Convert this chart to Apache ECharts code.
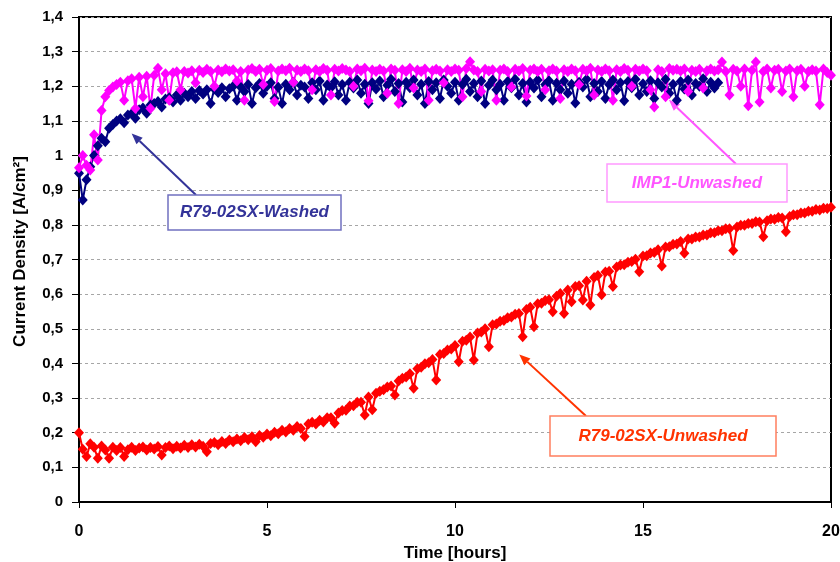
<!DOCTYPE html>
<html>
<head>
<meta charset="utf-8">
<script src="https://cdn.jsdelivr.net/npm/echarts@6/dist/echarts.min.js"></script>
<style>
  html, body { margin: 0; padding: 0; background: #fff; }
  #main { width: 840px; height: 562px; }
</style>
</head>
<body>
<div id="main"></div>
<script>
// sample times [hours]
const times = [
  0.0, 0.1, 0.2, 0.3, 0.4, 0.5, 0.6, 0.7, 0.8, 0.9,
  1.0, 1.1, 1.2, 1.3, 1.4, 1.5, 1.6, 1.7, 1.8, 1.9,
  2.0, 2.1, 2.2, 2.3, 2.4, 2.5, 2.6, 2.7, 2.8, 2.9,
  3.0, 3.1, 3.2, 3.3, 3.4, 3.5, 3.6, 3.7, 3.8, 3.9,
  4.0, 4.1, 4.2, 4.3, 4.4, 4.5, 4.6, 4.7, 4.8, 4.9,
  5.0, 5.1, 5.2, 5.3, 5.4, 5.5, 5.6, 5.7, 5.8, 5.9,
  6.0, 6.1, 6.2, 6.3, 6.4, 6.5, 6.6, 6.7, 6.8, 6.9,
  7.0, 7.1, 7.2, 7.3, 7.4, 7.5, 7.6, 7.7, 7.8, 7.9,
  8.0, 8.1, 8.2, 8.3, 8.4, 8.5, 8.6, 8.7, 8.8, 8.9,
  9.0, 9.1, 9.2, 9.3, 9.4, 9.5, 9.6, 9.7, 9.8, 9.9,
  10.0, 10.1, 10.2, 10.3, 10.4, 10.5, 10.6, 10.7, 10.8, 10.9,
  11.0, 11.1, 11.2, 11.3, 11.4, 11.5, 11.6, 11.7, 11.8, 11.9,
  12.0, 12.1, 12.2, 12.3, 12.4, 12.5, 12.6, 12.7, 12.8, 12.9,
  13.0, 13.1, 13.2, 13.3, 13.4, 13.5, 13.6, 13.7, 13.8, 13.9,
  14.0, 14.1, 14.2, 14.3, 14.4, 14.5, 14.6, 14.7, 14.8, 14.9,
  15.0, 15.1, 15.2, 15.3, 15.4, 15.5, 15.6, 15.7, 15.8, 15.9,
  16.0, 16.1, 16.2, 16.3, 16.4, 16.5, 16.6, 16.7, 16.8, 16.9,
  17.0, 17.1, 17.2, 17.3, 17.4, 17.5, 17.6, 17.7, 17.8, 17.9,
  18.0, 18.1, 18.2, 18.3, 18.4, 18.5, 18.6, 18.7, 18.8, 18.9,
  19.0, 19.1, 19.2, 19.3, 19.4, 19.5, 19.6, 19.7, 19.8, 19.9,
  20.0
]

// R79-02SX-Unwashed, current density [A/cm2]
const unwashedR79 = [
  0.200, 0.152, 0.131, 0.168, 0.158, 0.126, 0.162, 0.150, 0.126, 0.158,
  0.149, 0.157, 0.131, 0.151, 0.158, 0.149, 0.156, 0.159, 0.150, 0.157,
  0.153, 0.160, 0.136, 0.157, 0.162, 0.154, 0.161, 0.156, 0.164, 0.157,
  0.165, 0.159, 0.167, 0.161, 0.145, 0.169, 0.172, 0.165, 0.175, 0.169,
  0.179, 0.174, 0.182, 0.177, 0.186, 0.180, 0.188, 0.174, 0.192, 0.187,
  0.196, 0.191, 0.201, 0.197, 0.207, 0.202, 0.212, 0.207, 0.218, 0.212,
  0.189, 0.225, 0.230, 0.225, 0.236, 0.231, 0.243, 0.243, 0.227, 0.257,
  0.264, 0.265, 0.277, 0.278, 0.288, 0.288, 0.251, 0.303, 0.266, 0.314,
  0.320, 0.324, 0.332, 0.335, 0.309, 0.349, 0.357, 0.361, 0.370, 0.328,
  0.385, 0.389, 0.399, 0.402, 0.411, 0.352, 0.426, 0.429, 0.439, 0.442,
  0.452, 0.405, 0.464, 0.467, 0.476, 0.410, 0.488, 0.491, 0.500, 0.448,
  0.512, 0.514, 0.522, 0.524, 0.532, 0.534, 0.542, 0.544, 0.477, 0.556,
  0.562, 0.506, 0.572, 0.574, 0.582, 0.584, 0.549, 0.594, 0.602, 0.544,
  0.612, 0.578, 0.622, 0.624, 0.583, 0.637, 0.569, 0.648, 0.654, 0.598,
  0.664, 0.666, 0.622, 0.678, 0.684, 0.685, 0.692, 0.694, 0.701, 0.665,
  0.710, 0.711, 0.719, 0.720, 0.728, 0.681, 0.736, 0.737, 0.744, 0.745,
  0.752, 0.718, 0.759, 0.759, 0.765, 0.765, 0.771, 0.771, 0.777, 0.777,
  0.783, 0.783, 0.789, 0.789, 0.726, 0.794, 0.799, 0.799, 0.804, 0.804,
  0.809, 0.808, 0.766, 0.812, 0.817, 0.816, 0.821, 0.820, 0.780, 0.824,
  0.829, 0.829, 0.834, 0.834, 0.839, 0.839, 0.844, 0.843, 0.848, 0.847,
  0.851
]

// IMP1-Unwashed
const unwashedIMP1 = [
  0.965, 1.000, 0.972, 0.958, 1.060, 0.987, 1.130, 1.170, 1.188, 1.198,
  1.205, 1.212, 1.160, 1.216, 1.222, 1.136, 1.226, 1.170, 1.229, 1.136,
  1.232, 1.252, 1.190, 1.236, 1.160, 1.239, 1.242, 1.190, 1.243, 1.238,
  1.245, 1.210, 1.246, 1.240, 1.249, 1.243, 1.200, 1.247, 1.242, 1.250,
  1.244, 1.248, 1.215, 1.243, 1.160, 1.247, 1.251, 1.243, 1.249, 1.205,
  1.246, 1.251, 1.156, 1.244, 1.250, 1.245, 1.252, 1.212, 1.247, 1.243,
  1.250, 1.245, 1.190, 1.248, 1.243, 1.251, 1.246, 1.175, 1.249, 1.244,
  1.251, 1.247, 1.243, 1.200, 1.250, 1.245, 1.252, 1.158, 1.247, 1.243,
  1.249, 1.244, 1.180, 1.250, 1.246, 1.150, 1.248, 1.243, 1.252, 1.195,
  1.247, 1.243, 1.250, 1.160, 1.245, 1.249, 1.244, 1.210, 1.248, 1.243,
  1.250, 1.246, 1.170, 1.251, 1.271, 1.247, 1.243, 1.185, 1.249, 1.244,
  1.248, 1.160, 1.246, 1.250, 1.243, 1.198, 1.249, 1.244, 1.251, 1.172,
  1.246, 1.250, 1.243, 1.249, 1.190, 1.245, 1.250, 1.244, 1.165, 1.248,
  1.243, 1.250, 1.245, 1.205, 1.249, 1.244, 1.252, 1.175, 1.247, 1.243,
  1.250, 1.245, 1.160, 1.248, 1.243, 1.251, 1.246, 1.200, 1.249, 1.244,
  1.250, 1.245, 1.190, 1.140, 1.248, 1.243, 1.170, 1.251, 1.246, 1.249,
  1.244, 1.250, 1.185, 1.246, 1.243, 1.249, 1.195, 1.245, 1.250, 1.244,
  1.248, 1.270, 1.243, 1.175, 1.249, 1.244, 1.200, 1.250, 1.144, 1.246,
  1.270, 1.155, 1.243, 1.250, 1.195, 1.246, 1.249, 1.185, 1.244, 1.250,
  1.170, 1.245, 1.249, 1.200, 1.243, 1.248, 1.244, 1.147, 1.250, 1.240,
  1.232
]

// R79-02SX-Washed (measured up to 17 h)
const washedR79 = [
  0.949, 0.872, 0.930, 0.968, 1.000, 1.028, 1.050, 1.040, 1.079, 1.090,
  1.100, 1.106, 1.095, 1.117, 1.121, 1.108, 1.132, 1.137, 1.122, 1.146,
  1.150, 1.156, 1.140, 1.163, 1.167, 1.155, 1.175, 1.160, 1.180, 1.170,
  1.185, 1.165, 1.188, 1.178, 1.190, 1.150, 1.192, 1.182, 1.196, 1.170,
  1.193, 1.200, 1.160, 1.198, 1.185, 1.205, 1.150, 1.196, 1.208, 1.180,
  1.200, 1.210, 1.165, 1.197, 1.150, 1.206, 1.190, 1.212, 1.175, 1.203,
  1.198, 1.165, 1.210, 1.190, 1.215, 1.160, 1.204, 1.196, 1.213, 1.175,
  1.205, 1.160, 1.212, 1.195, 1.218, 1.180, 1.206, 1.150, 1.210, 1.192,
  1.215, 1.170, 1.203, 1.220, 1.185, 1.208, 1.155, 1.212, 1.196, 1.218,
  1.175, 1.206, 1.150, 1.214, 1.190, 1.210, 1.165, 1.218, 1.200, 1.180,
  1.212, 1.160, 1.205, 1.220, 1.185, 1.208, 1.170, 1.215, 1.150, 1.203,
  1.218, 1.190, 1.206, 1.160, 1.214, 1.196, 1.220, 1.175, 1.208, 1.155,
  1.212, 1.195, 1.218, 1.170, 1.205, 1.216, 1.160, 1.209, 1.190, 1.215,
  1.180, 1.206, 1.152, 1.212, 1.198, 1.220, 1.170, 1.208, 1.185, 1.214,
  1.165, 1.205, 1.218, 1.190, 1.210, 1.158, 1.214, 1.196, 1.220, 1.175,
  1.207, 1.185, 1.216, 1.165, 1.210, 1.198, 1.220, 1.180, 1.206, 1.160,
  1.214, 1.192, 1.218, 1.175, 1.208, 1.200, 1.222, 1.185, 1.212, 1.195,
  1.210
]

// callout labels: text, arrow tip in data coords
const callouts = [
  { text: 'R79-02SX-Washed', tip: [1.40, 1.064] },
  { text: 'IMP1-Unwashed', tip: [15.69, 1.161] },
  { text: 'R79-02SX-Unwashed', tip: [11.71, 0.426] }
]

const FONT = '"Liberation Sans", Arial, sans-serif'

function pairs(vals) {
  return vals.map((v, i) => [times[i], v])
}

function lineSeries(name, vals, color) {
  return {
    name: name,
    type: 'line',
    data: pairs(vals),
    symbol: 'diamond',
    symbolSize: [10, 11],
    showAllSymbol: true,
    lineStyle: { width: 2, color: color },
    itemStyle: { color: color },
    emphasis: { disabled: true }
  }
}

const chart = echarts.init(document.getElementById('main'))
chart.setOption({
  animation: false,
  backgroundColor: '#fff',
  grid: {
    left: 79,
    right: 9,
    top: 17,
    bottom: 60,
    outerBoundsMode: 'none',
    show: true,
    borderColor: '#000',
    borderWidth: 2,
    backgroundColor: '#fff'
  },
  xAxis: {
    type: 'value',
    min: 0,
    max: 20,
    interval: 5,
    name: 'Time [hours]',
    nameLocation: 'middle',
    nameGap: 42,
    nameTextStyle: { fontFamily: FONT, fontWeight: 'bold', fontSize: 17, color: '#000' },
    axisLine: { lineStyle: { color: '#000', width: 2 } },
    axisTick: { show: true, length: 6, lineStyle: { color: '#000', width: 1 } },
    axisLabel: { margin: 22, fontFamily: FONT, fontWeight: 'bold', fontSize: 16, color: '#000' },
    splitLine: { show: false }
  },
  yAxis: {
    type: 'value',
    min: 0,
    max: 1.4,
    interval: 0.1,
    name: 'Current Density [A/cm²]',
    nameLocation: 'middle',
    nameGap: 50,
    nameTextStyle: {
      fontFamily: FONT, fontWeight: 'bold', fontSize: 17, color: '#000',
      padding: [0, 0, 0, 16]
    },
    axisLine: { lineStyle: { color: '#000', width: 2 } },
    axisTick: { show: true, length: 7, lineStyle: { color: '#000', width: 1 } },
    axisLabel: {
      margin: 16,
      fontFamily: FONT,
      fontWeight: 'bold',
      fontSize: 15,
      color: '#000',
      formatter: v => String(Math.round(v * 10) / 10).replace('.', ',')
    },
    splitLine: { show: true, lineStyle: { color: '#a6a6a6', width: 1, type: [3, 3] } }
  },
  series: [
    lineSeries('R79-02SX-Unwashed', unwashedR79, '#ff0000'),
    lineSeries('R79-02SX-Washed', washedR79, '#000080'),
    lineSeries('IMP1-Unwashed', unwashedIMP1, '#ff00ff')
  ]
})

// callout boxes + arrows
const boxes = [
  { x: 168, y: 195, w: 173, h: 35, color: '#333399', border: '#7070c0', from: [196, 195] },
  { x: 607, y: 164, w: 180, h: 38, color: '#ff55ff', border: '#ff99ff', from: [736, 164] },
  { x: 550, y: 416, w: 226, h: 40, color: '#ff3300', border: '#ff7f5f', from: [586, 416] }
]

function arrow(from, to, color) {
  const dx = to[0] - from[0], dy = to[1] - from[1]
  const len = Math.sqrt(dx * dx + dy * dy)
  const ux = dx / len, uy = dy / len
  const hl = 11, hw = 4.5
  const bx = to[0] - ux * hl, by = to[1] - uy * hl
  return [
    {
      type: 'line',
      shape: { x1: from[0], y1: from[1], x2: bx, y2: by },
      style: { stroke: color, lineWidth: 2 }
    },
    {
      type: 'polygon',
      shape: { points: [to, [bx - uy * hw, by + ux * hw], [bx + uy * hw, by - ux * hw]] },
      style: { fill: color }
    }
  ]
}

const graphic = []
callouts.forEach((c, i) => {
  const b = boxes[i]
  const tip = chart.convertToPixel({ gridIndex: 0 }, c.tip)
  graphic.push(...arrow(b.from, tip, b.color))
  graphic.push({
    type: 'rect',
    shape: { x: b.x, y: b.y, width: b.w, height: b.h },
    style: { fill: '#fff', stroke: b.border, lineWidth: 1.5 }
  })
  graphic.push({
    type: 'text',
    x: b.x + b.w / 2,
    y: b.y + b.h / 2,
    style: {
      text: c.text,
      fill: b.color,
      font: 'italic bold 17px ' + FONT,
      align: 'center',
      verticalAlign: 'middle'
    }
  })
})
chart.setOption({ graphic: graphic })
</script>
</body>
</html>
